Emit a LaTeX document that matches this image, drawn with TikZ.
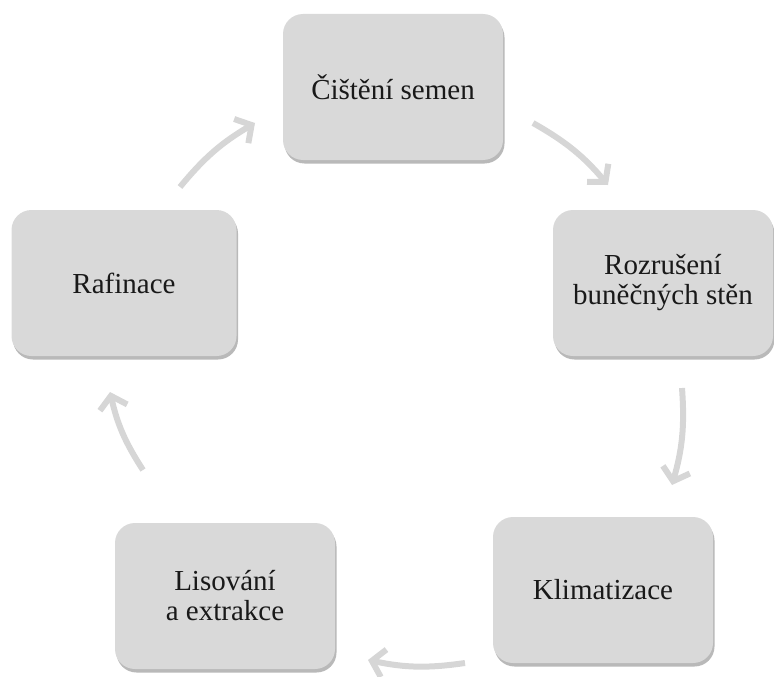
\documentclass[tikz,border=0pt]{standalone}
\usepackage{fontspec}
\setmainfont{Liberation Serif}
\usepackage{xcolor}
\usepackage{tikz}
\usetikzlibrary{shadows}
\usetikzlibrary{arrows.meta,calc}
\definecolor{boxgray}{RGB}{217,217,217}
\definecolor{arrowgray}{RGB}{214,214,214}
\tikzset{
  stage/.style={
    shape = rectangle,
    rounded corners = 20pt,
    minimum width = 220pt,
    minimum height = 146pt,
    fill = boxgray,
    draw = none,
    align = center,
    text = black!90,
    drop shadow={shadow xshift=1.5pt, shadow yshift=-3.5pt, opacity=0.5, fill=black!55},
    font = \fontsize{29}{30}\selectfont
  },
  cycle/.style={
    draw = arrowgray,
    line width = 6pt,
    -{Straight Barb[length=12pt,width=28pt]},
    bend left = 10
  }
}

\begin{document}
\begin{tikzpicture}[x=1pt,y=1pt]
    \useasboundingbox (0,0) rectangle (774,-677);
        \node[stage] (cist) at (393,-87) {Čištění semen};
        \node[stage] (rozr) at (663,-283) {Rozrušení\\buněčných stěn};
        \node[stage] (klim) at (603,-590) {Klimatizace};
        \node[stage] (lis) at (225,-596) {Lisování\\a extrakce};
        \node[stage, minimum width=225pt] (raf) at (124,-283) {Rafinace};
        % arrow ends on the circle
        \coordinate (c1s) at (533,-123);
        \coordinate (c1e) at (608,-185);
        \coordinate (c2s) at (682,-388);
        \coordinate (c2e) at (672,-485);
        \coordinate (c3s) at (465,-663);
        \coordinate (c3e) at (368,-660);
        \coordinate (c4s) at (143,-470);
        \coordinate (c4e) at (110,-392);
        \coordinate (c5s) at (180,-187);
        \coordinate (c5e) at (255,-123);
        \draw[cycle] (c1s) to (c1e);
        \draw[cycle] (c2s) to (c2e);
        \draw[cycle] (c3s) to (c3e);
        \draw[cycle] (c4s) to (c4e);
        \draw[cycle] (c5s) to (c5e);
    \end{tikzpicture}
\end{document}
